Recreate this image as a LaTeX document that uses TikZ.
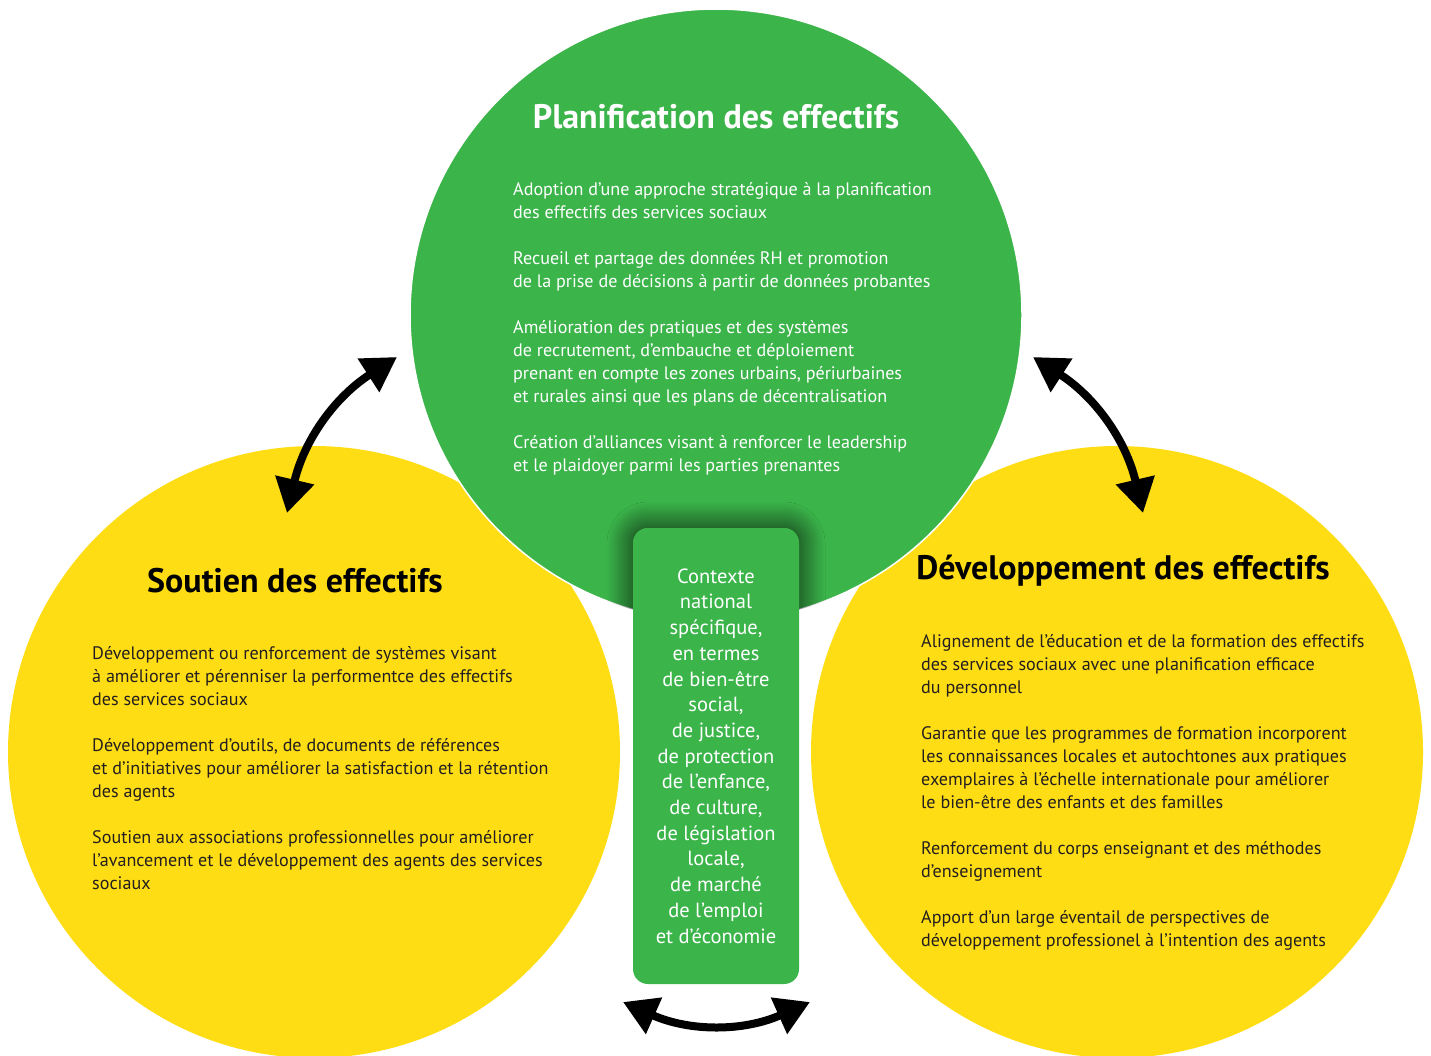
\documentclass[tikz,border=0pt]{standalone}
\usepackage{fontspec}
\setmainfont{PT Sans}
\usetikzlibrary{positioning,arrows.meta,shadows.blur}
\definecolor{effgreen}{RGB}{59,180,74}
\definecolor{effyellow}{RGB}{255,221,21}
\definecolor{efftext}{RGB}{35,31,32}
\tikzset{main circle/.style={circle, minimum size=612pt, inner sep=0pt},
  head text/.style={font=\fontsize{34}{40}\selectfont\bfseries, inner sep=0pt},
  body text/.style={font=\fontsize{18.1}{23}\selectfont, align=left, anchor=north west, inner sep=0pt},
  link/.style={{Triangle[length=34pt,width=38pt]}-{Triangle[length=34pt,width=38pt]}, line width=8pt},}

\begin{document}
\begin{tikzpicture}[x=1pt, y=-1pt]
        \useasboundingbox (0,0) rectangle (1431,1055);
        \clip (0,0) rectangle (1431,1055);
        % Circles
        \node[main circle, fill=effyellow] (2) at (314,752) {};
        \node[main circle, fill=effyellow] (3) at (1117,752) {};
        \node[main circle, fill=effgreen, draw=white, line width=1.5pt] (1) at (716,315) {};
        \begin{scope}
          \clip (716,315) circle [radius=306];
          \path[fill=effgreen, rounded corners=15pt,
            blur shadow={shadow xshift=0pt, shadow yshift=0pt, shadow blur radius=26pt, shadow opacity=85, shadow blur steps=24}]
            (633,528) rectangle (799,984);
        \end{scope}
        \node[fill=effgreen, rounded corners=15pt, minimum width=166pt, minimum height=456pt,
          text=white, align=center, font=\fontsize{20.5}{25.7}\selectfont] (4) at (716,756)
          {Contexte\\national\\spécifique,\\en termes\\de bien-être\\social,\\de justice,\\de protection\\de l’enfance,\\de culture,\\de législation\\locale,\\de marché\\de l’emploi\\et d’économie};
        % Titles
        \node[head text, text=white] (t1) at (716,117) {Planification des effectifs};
        \node[head text, text=black] (t2) at (295,581) {Soutien des effectifs};
        \node[head text, text=black] (t3) at (1123,571) {Développement des effectifs};
        % Texts
        \node[body text, text=white] (b1) at (513,182)
          {Adoption d’une approche stratégique à la planification\\des effectifs des services sociaux\\[23pt]
           Recueil et partage des données RH et promotion\\de la prise de décisions à partir de données probantes\\[23pt]
           Amélioration des pratiques et des systèmes\\de recrutement, d’embauche et déploiement\\prenant en compte les zones urbains, périurbaines\\et rurales ainsi que les plans de décentralisation\\[23pt]
           Création d’alliances visant à renforcer le leadership\\et le plaidoyer parmi les parties prenantes};
        \node[body text, text=efftext] (b2) at (92,646)
          {Développement ou renforcement de systèmes visant\\à améliorer et pérenniser la performentce des effectifs\\des services sociaux\\[23pt]
           Développement d’outils, de documents de références\\et d’initiatives pour améliorer la satisfaction et la rétention\\des agents\\[23pt]
           Soutien aux associations professionnelles pour améliorer\\l’avancement et le développement des agents des services\\sociaux};
        \node[body text, text=efftext] (b3) at (921,634)
          {Alignement de l’éducation et de la formation des effectifs\\des services sociaux avec une planification efficace\\du personnel\\[23pt]
           Garantie que les programmes de formation incorporent\\les connaissances locales et autochtones aux pratiques\\exemplaires à l’échelle internationale pour améliorer\\le bien-être des enfants et des familles\\[23pt]
           Renforcement du corps enseignant et des méthodes\\d’enseignement\\[23pt]
           Apport d’un large éventail de perspectives de\\développement professionel à l’intention des agents};
        % Arrows
        \coordinate (l1) at (397,357);
        \coordinate (l2) at (287,513);
        \coordinate (r1) at (1033,357);
        \coordinate (r2) at (1143,513);
        \coordinate (d1) at (623,1002);
        \coordinate (d2) at (810,1002);
        \draw[link] (l2) to [bend left=22] (l1);
        \draw[link] (r1) to [bend left=22] (r2);
        \draw[link] (d1) to [bend right=24] (d2);
\end{tikzpicture}
\end{document}
